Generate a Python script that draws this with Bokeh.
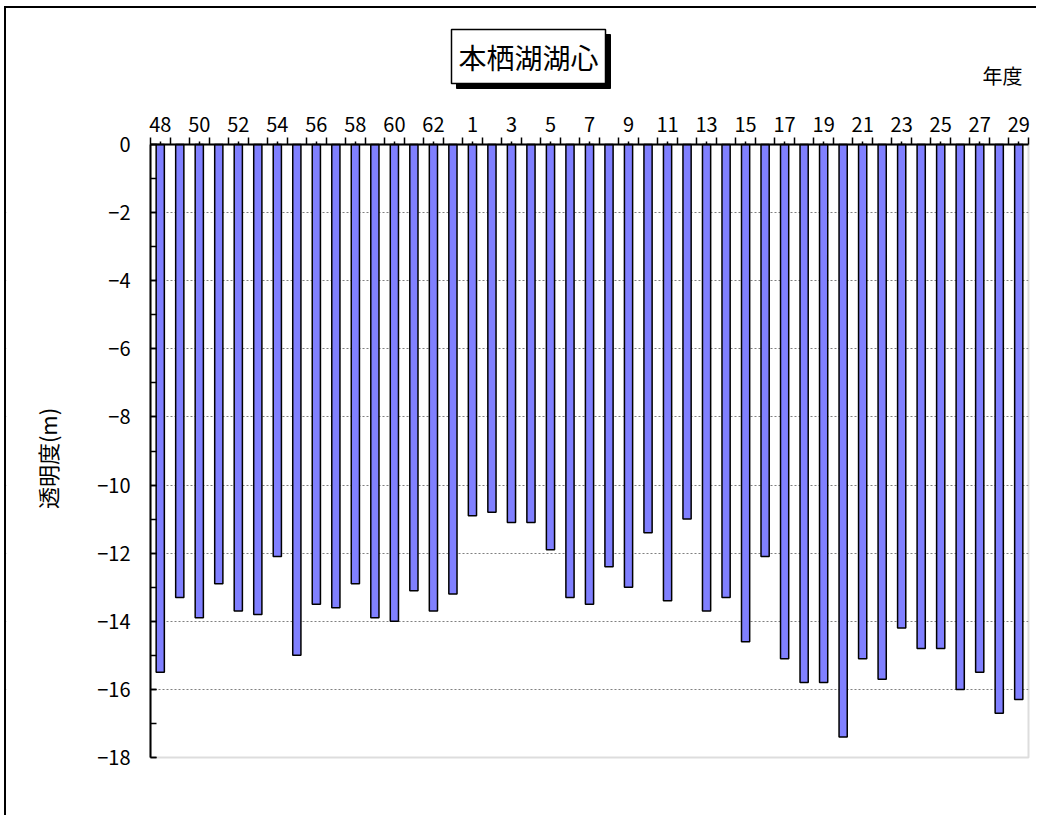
import math
from bokeh.plotting import figure
from bokeh.models import (Range1d, FixedTicker, CustomJSTickFormatter, LinearAxis, Label, BoxAnnotation)
from bokeh.embed import file_html
from bokeh.resources import INLINE

# Fiscal years: Showa 48-63, Heisei 1-29
years = [str(y) for y in range(48, 64)] + [str(y) for y in range(1, 30)]
transparency = [-15.5, -13.3, -13.9, -12.9, -13.7, -13.8, -12.1, -15.0, -13.5, -13.6,
                -12.9, -13.9, -14.0, -13.1, -13.7, -13.2,
                -10.9, -10.8, -11.1, -11.1, -11.9, -13.3, -13.5, -12.4, -13.0, -11.4,
                -13.4, -11.0, -13.7, -13.3, -14.6, -12.1, -15.1, -15.8, -15.8, -17.4,
                -15.1, -15.7, -14.2, -14.8, -14.8, -16.0, -15.5, -16.7, -16.3]
y_ticks = [0, -2, -4, -6, -8, -10, -12, -14, -16, -18]

title_text = "本栖湖湖心"
y_label_text = "透明度(m)"
x_unit_text = "年度"

FONT = "Noto Sans CJK JP"
n = len(years)
centers = [i + 0.5 for i in range(n)]
Y_MIN = -18

# layout geometry (page pixels)
W, H = 1032, 809
OX, OY = 6, 8                  # canvas origin on the page
PL, PR, PT, PB = 150, 1028, 144, 757   # plot area edges on the page
sx = (PR - PL) / n
sy = (PB - PT) / (0 - Y_MIN)
x0 = -(PL - OX) / sx
x1 = n + (OX + W - PR) / sx
y1 = (PT - OY) / sy
y0 = Y_MIN - (OY + H - PB) / sy


def dx(px):
    return x0 + (px - OX) / sx


def dy(py):
    return y1 - (py - OY) / sy


p = figure(width=W, height=H, output_backend="svg", toolbar_location=None,
           x_range=Range1d(x0, x1), y_range=Range1d(y0, y1),
           x_axis_location=None, y_axis_location=None,
           min_border=0, min_border_left=0, min_border_right=0, min_border_top=0, min_border_bottom=0)
p.styles = {"border-left": "2px solid black", "border-top": "2px solid black",
            "margin-left": "4px", "margin-top": "6px"}
p.outline_line_color = None
p.xgrid.visible = False
p.background_fill_color = "white"

# grid
p.ygrid.ticker = FixedTicker(ticks=[-2, -4, -6, -8, -10, -12, -14, -16])
p.ygrid.grid_line_color = "#808080"
p.ygrid.grid_line_dash = "2 2"
p.ygrid.grid_line_width = 1.2

# keep grid lines inside the plot area
p.add_layout(BoxAnnotation(left=x0, right=0, bottom=Y_MIN + 0.5, top=-0.5, fill_color="white",
                           fill_alpha=1, line_color=None, level="underlay"))
p.add_layout(BoxAnnotation(left=n, right=x1, bottom=Y_MIN + 0.5, top=-0.5, fill_color="white",
                           fill_alpha=1, line_color=None, level="underlay"))
# plot-area border (gray right/bottom)
p.add_layout(BoxAnnotation(left=0, right=n, bottom=Y_MIN, top=0, fill_color=None,
                           line_color="#909090", line_width=2, level="underlay"))

# y axis
yax = LinearAxis(ticker=FixedTicker(ticks=y_ticks, minor_ticks=list(range(Y_MIN, 1))),
                 fixed_location=0, bounds=(Y_MIN, 0))
yax.formatter = CustomJSTickFormatter(code="return tick < 0 ? '\u2212' + Math.abs(tick) : String(tick);")
yax.axis_line_color = "black"
yax.axis_line_width = 2
yax.major_tick_in = 6
yax.major_tick_out = 0
yax.minor_tick_in = 6
yax.minor_tick_out = 0
yax.major_tick_line_color = "black"
yax.minor_tick_line_color = "black"
yax.major_tick_line_width = 1.5
yax.minor_tick_line_width = 1.5
yax.major_label_standoff = 20
yax.major_label_text_font = FONT
yax.major_label_text_font_size = "20px"
yax.major_label_text_color = "black"
p.add_layout(yax, "left")

# top x axis
xax = LinearAxis(ticker=FixedTicker(ticks=centers[::2], minor_ticks=list(range(0, n + 1))),
                 fixed_location=0, bounds=(0, n))
xax.formatter = CustomJSTickFormatter(args=dict(labels=years), code="return labels[Math.floor(tick)];")
xax.axis_line_color = "black"
xax.axis_line_width = 2
xax.major_tick_out = 3
xax.major_tick_in = 0
xax.minor_tick_out = 7
xax.minor_tick_in = 0
xax.major_tick_line_color = "black"
xax.minor_tick_line_color = "black"
xax.major_tick_line_width = 1.5
xax.minor_tick_line_width = 1.5
xax.major_label_standoff = 6
xax.major_label_text_font = FONT
xax.major_label_text_font_size = "20px"
xax.major_label_text_color = "black"
p.add_layout(xax, "above")

# bars
p.vbar(x=centers, top=[0] * n, bottom=transparency, width=0.42,
       fill_color="#8080FF", line_color="black", line_width=1.5)

# title box with shadow
tx, ty = dx(528), dy(56)
shadow = Label(x=tx, y=ty, text=title_text, text_font=FONT, text_font_size="28px",
               text_align="center", text_baseline="middle", text_color="black",
               background_fill_color="black", border_line_color="black",
               padding=7, x_offset=5, y_offset=-5)
main = Label(x=tx, y=ty, text=title_text, text_font=FONT, text_font_size="28px",
             text_align="center", text_baseline="middle", text_color="black",
             background_fill_color="white", border_line_color="black", border_line_width=1.5,
             padding=7)
p.add_layout(shadow)
p.add_layout(main)

unit = Label(x=dx(1002), y=dy(75), text=x_unit_text, text_font=FONT,
             text_font_size="20px", text_align="center", text_baseline="middle", text_color="black")
p.add_layout(unit)

ylab = Label(x=dx(46), y=dy(458), text=y_label_text, text_font=FONT,
             text_font_size="22px", text_align="center", text_baseline="middle", text_color="black",
             angle=math.pi / 2)
p.add_layout(ylab)

open("out.html", "w").write(file_html(p, INLINE))
